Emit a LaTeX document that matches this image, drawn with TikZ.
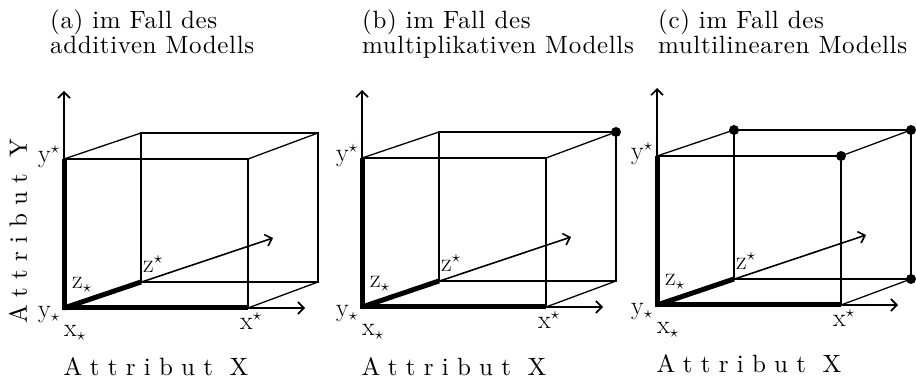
\documentclass[tikz,border=0pt]{standalone}
\usepackage{fontspec}
\usetikzlibrary{arrows.meta}
\newfontfamily\titlefont[Extension=.otf, LetterSpace=2.5]{lmroman10-regular}
\newfontfamily\axisfont[Extension=.otf, LetterSpace=33]{lmroman10-regular}

\begin{document}
\begin{tikzpicture}[
    x=1pt, y=-1pt,
    >={Straight Barb[length=6pt,width=12pt]},
    edge/.style={line width=1.3pt},
    axis/.style={->, line width=1.6pt},
    bold/.style={line width=5pt},
    corner/.style={circle, fill, inner sep=0pt, minimum size=10pt},
    lbl/.style={font=\fontsize{26}{28}\selectfont, inner sep=0pt},
    title/.style={font=\titlefont\fontsize{25}{27}\selectfont,
                  inner sep=0pt, anchor=base west},
    axlbl/.style={font=\axisfont\fontsize{25}{27}\selectfont,
                  inner sep=0pt, anchor=base}
  ]
  \useasboundingbox (0,0) rectangle (916,379);

  % Titles
  \node[title] (ta1) at (50,29) {(a) im Fall des};
  \node[title] (ta2) at (50,54) {additiven Modells};
  \node[title] (tb1) at (362,29) {(b) im Fall des};
  \node[title] (tb2) at (362,54) {multiplikativen Modells};
  \node[title] (tc1) at (658,29) {(c) im Fall des};
  \node[title] (tc2) at (658,54) {multilinearen Modells};

  % Axis label Y
  \node[axlbl, rotate=90] (ay) at (27,231) {Attribut Y};

  % Three cubes
  \foreach \px/\py/\n in {64/308/a, 362/307/b, 657/305/c} {
    \begin{scope}[shift={(\px,\py)}]
      \coordinate (\n-o) at (0,0);
      \coordinate (\n-x) at (184,0);
      \coordinate (\n-y) at (0,-149);
      \coordinate (\n-xy) at (184,-149);
      \coordinate (\n-z) at (77,-26);
      \coordinate (\n-zx) at (254,-26);
      \coordinate (\n-zy) at (77,-175);
      \coordinate (\n-zxy) at (254,-175);
      \coordinate (\n-xa) at (241,0);
      \coordinate (\n-ya) at (0,-217);
      \coordinate (\n-za) at (209,-70);

      % axes
      \draw[axis] (\n-o) -- (\n-ya);
      \draw[axis] (\n-o) -- (\n-xa);
      \draw[axis] (\n-o) -- (\n-za);

      % edges
      \draw[edge] (\n-y) -- (\n-xy) -- (\n-x);
      \draw[edge] (\n-z) -- (\n-zy) -- (\n-zxy) -- (\n-zx) -- cycle;
      \draw[edge] (\n-y) -- (\n-zy);
      \draw[edge] (\n-xy) -- (\n-zxy);
      \draw[edge] (\n-x) -- (\n-zx);

      % lower bounds
      \draw[bold] (\n-y) -- (\n-o) -- (\n-x);
      \draw[bold] (\n-o) -- (\n-z);

      \node[lbl, anchor=base east] (\n-ys) at (-4,-145) {y$^\star$};
      \node[lbl, anchor=base east] (\n-yl) at (-4,10) {y$_\star$};
      \node[lbl, anchor=base west] (\n-xl) at (0,29) {x$_\star$};
      \node[lbl, anchor=base] (\n-xs) at (187,22) {x$^\star$};
      \node[lbl, anchor=base west] (\n-zl) at (8,-19) {z$_\star$};
      \node[lbl, anchor=base west] (\n-zs) at (79,-35) {z$^\star$};

      \node[axlbl] (\n-ax) at (92,68) {Attribut X};
    \end{scope}
  }

  % Corner points
  \node[corner] (b-p1) at (b-zxy) {};
  \node[corner] (c-p1) at (c-zy) {};
  \node[corner] (c-p2) at (c-zxy) {};
  \node[corner] (c-p3) at (c-xy) {};
  \node[corner] (c-p4) at (c-zx) {};
\end{tikzpicture}
\end{document}
